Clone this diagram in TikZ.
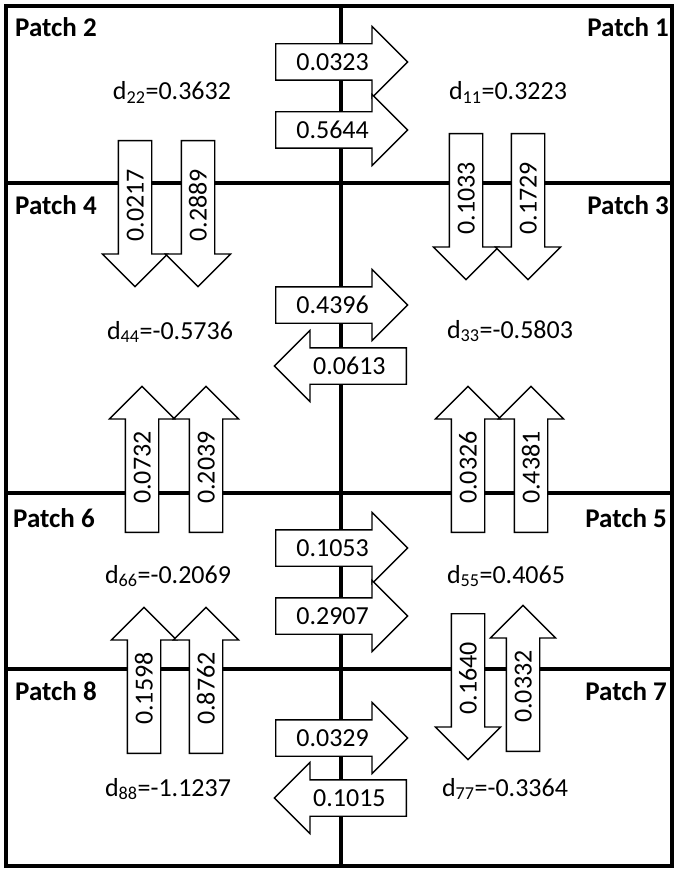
\documentclass[tikz,border=0pt]{standalone}
\usepackage{fontspec}
\setmainfont{Carlito}
\usepackage{tikz}
\usetikzlibrary{shapes.arrows}

\tikzset{
  gridline/.style={line width=3.5pt},
  flow/.style={draw, fill=white, line width=1.3pt, single arrow,
    single arrow tip angle=90, single arrow head indent=0pt,
    text height=17pt, text depth=0pt, inner xsep=2pt,
    font=\fontsize{26}{30}\selectfont},
  hflow/.style={flow, minimum height=132pt, inner ysep=9pt, single arrow head extend=17.5pt},
  vflow/.style={flow, rotate=90, minimum height=146pt, inner ysep=7.5pt, single arrow head extend=16pt},
  patchlabel/.style={font=\fontsize{27}{31}\selectfont\bfseries, inner sep=0pt},
  dlabel/.style={font=\fontsize{26}{30}\selectfont, inner sep=0pt, anchor=base},
}

\begin{document}
\begin{tikzpicture}[x=1pt, y=-1pt]
    \useasboundingbox (0,0) rectangle (675,869);

    % Khung ngoài và các đường chia ô
    \draw[gridline] (6,6) rectangle (672,866);
    \draw[gridline] (341,6) -- (341,866);
    \foreach \yy in {183,493,669}
        \draw[gridline] (6,\yy) -- (672,\yy);

    % Tên các ô
    \node[patchlabel, anchor=base west] (p2) at (15,37) {Patch 2};
    \node[patchlabel, anchor=base east] (p1) at (669,37) {Patch 1};
    \node[patchlabel, anchor=base west] (p4) at (15,214) {Patch 4};
    \node[patchlabel, anchor=base east] (p3) at (669,214) {Patch 3};
    \node[patchlabel, anchor=base west] (p6) at (13,527) {Patch 6};
    \node[patchlabel, anchor=base east] (p5) at (667,527) {Patch 5};
    \node[patchlabel, anchor=base west] (p8) at (15,700) {Patch 8};
    \node[patchlabel, anchor=base east] (p7) at (667,700) {Patch 7};

    % Hệ số d_ii
    \node[dlabel] (d22) at (172,100) {d\textsubscript{22}=0.3632};
    \node[dlabel] (d11) at (508,100) {d\textsubscript{11}=0.3223};
    \node[dlabel] (d44) at (170,339) {d\textsubscript{44}=-0.5736};
    \node[dlabel] (d33) at (510,338) {d\textsubscript{33}=-0.5803};
    \node[dlabel] (d66) at (168,583) {d\textsubscript{66}=-0.2069};
    \node[dlabel] (d55) at (506,583) {d\textsubscript{55}=0.4065};
    \node[dlabel] (d88) at (168,796) {d\textsubscript{88}=-1.1237};
    \node[dlabel] (d77) at (505,796) {d\textsubscript{77}=-0.3364};

    % Mũi tên ngang qua đường giữa
    \node[hflow, anchor=tail] (f21a) at (275,62) {0.0323};
    \node[hflow, anchor=tail] (f21b) at (275,130) {0.5644};
    \node[hflow, anchor=tail] (f43a) at (275,305) {0.4396};
    \node[hflow, shape border rotate=180, anchor=tail] (f34a) at (407,366) {0.0613};
    \node[hflow, anchor=tail] (f65a) at (275,548) {0.1053};
    \node[hflow, anchor=tail] (f65b) at (275,616) {0.2907};
    \node[hflow, anchor=tail] (f87a) at (275,738) {0.0329};
    \node[hflow, shape border rotate=180, anchor=tail] (f78a) at (407,798) {0.1015};

    % Mũi tên dọc qua các đường ngang
    \node[vflow, shape border rotate=180, anchor=tail] (f24a) at (135,140) {0.0217};
    \node[vflow, shape border rotate=180, anchor=tail] (f24b) at (198,140) {0.2889};
    \node[vflow, shape border rotate=180, anchor=tail] (f13a) at (466,133) {0.1033};
    \node[vflow, shape border rotate=180, anchor=tail] (f13b) at (528,133) {0.1729};
    \node[vflow, anchor=tail] (f64a) at (142,533) {0.0732};
    \node[vflow, anchor=tail] (f64b) at (206,533) {0.2039};
    \node[vflow, anchor=tail] (f53a) at (468,533) {0.0326};
    \node[vflow, anchor=tail] (f53b) at (531,533) {0.4381};
    \node[vflow, anchor=tail] (f86a) at (144,754) {0.1598};
    \node[vflow, anchor=tail] (f86b) at (206,754) {0.8762};
    \node[vflow, shape border rotate=180, anchor=tail] (f57a) at (468,613) {0.1640};
    \node[vflow, anchor=tail] (f75a) at (523,752) {0.0332};
\end{tikzpicture}
\end{document}
